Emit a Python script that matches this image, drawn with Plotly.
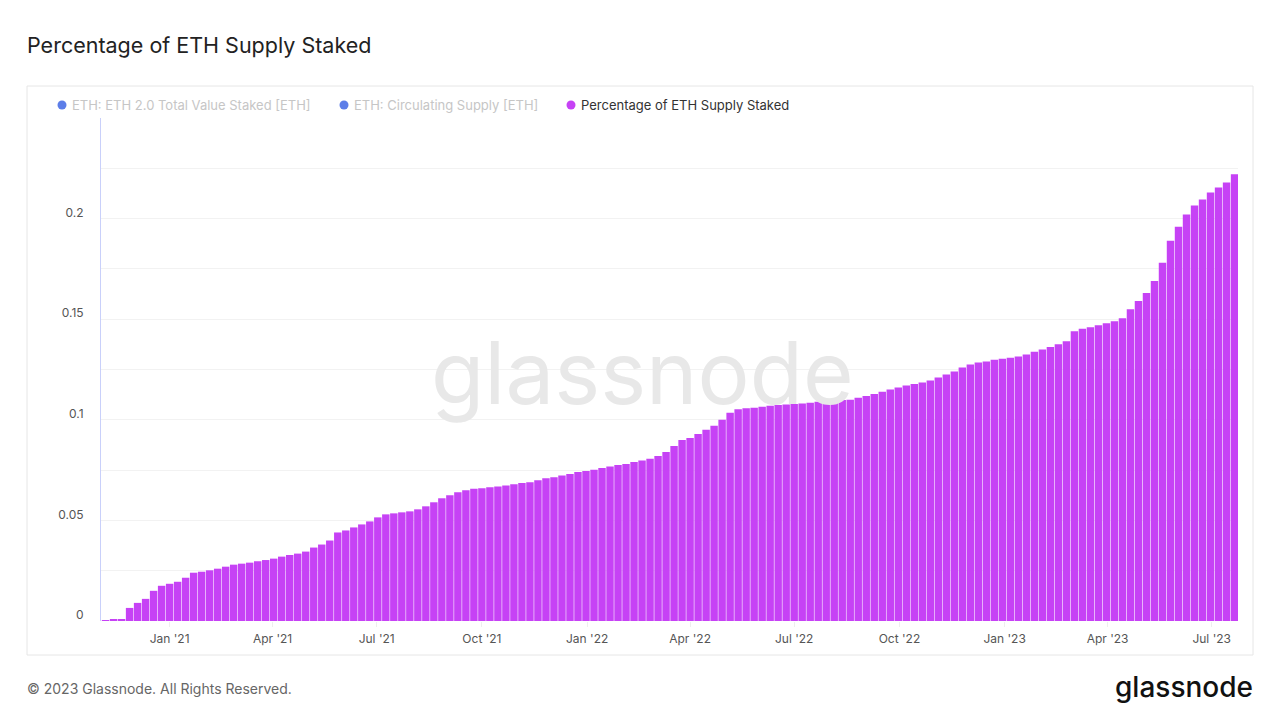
import plotly.graph_objects as go
import pandas as pd

# ---- data (weekly readings) ----
start_date = "2020-11-06"
n_weeks = 142
dates = pd.date_range(start_date, periods=n_weeks, freq="7D")

pct_staked = [
    0.0003, 0.0005, 0.0010, 0.0065, 0.0090, 0.0110, 0.0150, 0.0175, 0.0185, 0.0195,
    0.0215, 0.0240, 0.0245, 0.0252, 0.0260, 0.0270, 0.0280, 0.0285, 0.0290, 0.0297,
    0.0303, 0.0310, 0.0320, 0.0328, 0.0335, 0.0345, 0.0365, 0.0380, 0.0400, 0.0440,
    0.0450, 0.0465, 0.0480, 0.0495, 0.0515, 0.0530, 0.0535, 0.0540, 0.0545, 0.0555,
    0.0570, 0.0590, 0.0610, 0.0625, 0.0640, 0.0650, 0.0657, 0.0660, 0.0665, 0.0668,
    0.0673, 0.0680, 0.0686, 0.0690, 0.0700, 0.0710, 0.0715, 0.0723, 0.0730, 0.0740,
    0.0746, 0.0752, 0.0760, 0.0768, 0.0775, 0.0780, 0.0790, 0.0798, 0.0806, 0.0820,
    0.0840, 0.0870, 0.0900, 0.0910, 0.0930, 0.0950, 0.0970, 0.1000, 0.1035, 0.1053,
    0.1057, 0.1060, 0.1065, 0.1070, 0.1073, 0.1076, 0.1078, 0.1081, 0.1085, 0.1090,
    0.1093, 0.1095, 0.1098, 0.1100, 0.1110, 0.1118, 0.1128, 0.1140, 0.1150, 0.1160,
    0.1170, 0.1178, 0.1185, 0.1195, 0.1210, 0.1225, 0.1240, 0.1260, 0.1275, 0.1285,
    0.1290, 0.1298, 0.1303, 0.1308, 0.1315, 0.1325, 0.1338, 0.1350, 0.1362, 0.1375,
    0.1390, 0.1440, 0.1452, 0.1460, 0.1470, 0.1480, 0.1490, 0.1505, 0.1550, 0.1590,
    0.1630, 0.1690, 0.1780, 0.1890, 0.1960, 0.2020, 0.2065, 0.2095, 0.2130, 0.2155,
    0.2180, 0.2220,
]

legend_labels = [
    "ETH: ETH 2.0 Total Value Staked [ETH]",
    "ETH: Circulating Supply [ETH]",
    "Percentage of ETH Supply Staked",
]
y_tickvals = [0, 0.05, 0.1, 0.15, 0.2]
y_ticktext = ["0", "0.05", "0.1", "0.15", "0.2"]
x_range = ["2020-11-02", "2023-07-24"]
y_range = [0, 0.25]

title_text = "Percentage of ETH Supply Staked"
footer_text = "© 2023 Glassnode. All Rights Reserved."
logo_text = "glassnode"

# ---- style ----
FONT = "Inter, Roboto, 'Noto Sans', sans-serif"
PURPLE = "#c642f5"
BLUE = "#5d7ee8"

OFF = 8  # page body margin
W_PX, H_PX = 1280 - 2 * OFF, 720 - 2 * OFF
PLOT_L, PLOT_R, PLOT_T, PLOT_B = 101, 1238, 118, 621  # page pixel coords
L = PLOT_L - OFF
R = W_PX - (PLOT_R - OFF)
T = PLOT_T - OFF
B = H_PX - (PLOT_B - OFF)
PW = PLOT_R - PLOT_L
PH = PLOT_B - PLOT_T


def px_x(p):
    return (p - PLOT_L) / PW


def px_y(p):
    return (PLOT_B - p) / PH


fig = go.Figure()
fig.add_trace(go.Bar(
    x=dates, y=pct_staked,
    marker=dict(color=PURPLE, line=dict(width=0)),
    showlegend=False,
    hovertemplate="%{x|%b %d, %Y}<br>%{y:.4f}<extra></extra>",
))

shapes = []
annotations = []

# card border
shapes.append(dict(type="rect", xref="paper", yref="paper",
                   x0=px_x(27), x1=px_x(1253), y0=px_y(655), y1=px_y(86),
                   line=dict(color="#e6e6e6", width=1), fillcolor="rgba(0,0,0,0)",
                   layer="below"))

# legend (manual)
legend_dot_x = [62, 344, 571]
legend_dot_colors = [BLUE, BLUE, PURPLE]
legend_text_colors = ["#c6c6c6", "#c6c6c6", "#333333"]
for lbl, dx, dc, tc in zip(legend_labels, legend_dot_x, legend_dot_colors, legend_text_colors):
    shapes.append(dict(type="circle", xref="paper", yref="paper",
                       xsizemode="pixel", ysizemode="pixel",
                       xanchor=px_x(dx), yanchor=px_y(105),
                       x0=-4.5, x1=4.5, y0=-4.5, y1=4.5,
                       fillcolor=dc, line=dict(width=0)))
    annotations.append(dict(xref="paper", yref="paper", x=px_x(dx + 8), y=px_y(105),
                            xanchor="left", yanchor="middle", showarrow=False,
                            text=lbl, font=dict(family=FONT, size=13, color=tc)))

# watermark
annotations.append(dict(xref="paper", yref="paper", x=px_x(642), y=px_y(372),
                        xanchor="center", yanchor="middle", showarrow=False,
                        text=logo_text, font=dict(family=FONT, size=87, color="#e8e8e8")))

# title
annotations.append(dict(xref="paper", yref="paper", x=px_x(25), y=px_y(45),
                        xanchor="left", yanchor="middle", showarrow=False,
                        text=title_text, font=dict(family=FONT, size=21.5, color="#222222")))
# footer
annotations.append(dict(xref="paper", yref="paper", x=px_x(25), y=px_y(688),
                        xanchor="left", yanchor="middle", showarrow=False,
                        text=footer_text, font=dict(family=FONT, size=14, color="#666666")))
# logo
annotations.append(dict(xref="paper", yref="paper", x=px_x(1255), y=px_y(687),
                        xanchor="right", yanchor="middle", showarrow=False,
                        text=logo_text,
                        font=dict(family=FONT, size=28, color="#111111", weight=500)))

fig.update_layout(
    width=W_PX, height=H_PX,
    margin=dict(l=L, r=R, t=T, b=B, pad=0),
    paper_bgcolor="white", plot_bgcolor="white",
    bargap=0.07,
    font=dict(family=FONT, color="#555555"),
    shapes=shapes, annotations=annotations,
    showlegend=False,
    xaxis=dict(
        type="date", range=x_range,
        tickformat="%b '%y", dtick="M3", tick0="2021-01-01",
        showgrid=False, zeroline=False, showline=False,
        ticks="outside", ticklen=5, tickcolor="#eeeeee",
        tickfont=dict(family=FONT, size=12, color="#555555"),
        ticklabelstandoff=2,
    ),
    yaxis=dict(
        range=y_range, tickvals=y_tickvals, ticktext=y_ticktext,
        showgrid=True, gridcolor="#f2f2f2", gridwidth=1,
        minor=dict(dtick=0.025, tick0=0, showgrid=True, gridcolor="#f2f2f2", gridwidth=1),
        zeroline=False,
        showline=True, linecolor="#c9d0fa", linewidth=1,
        ticks="", ticklabelstandoff=14, ticklabelshift=-6,
        tickfont=dict(family=FONT, size=12, color="#555555"),
    ),
)

fig.write_html("out.html")
